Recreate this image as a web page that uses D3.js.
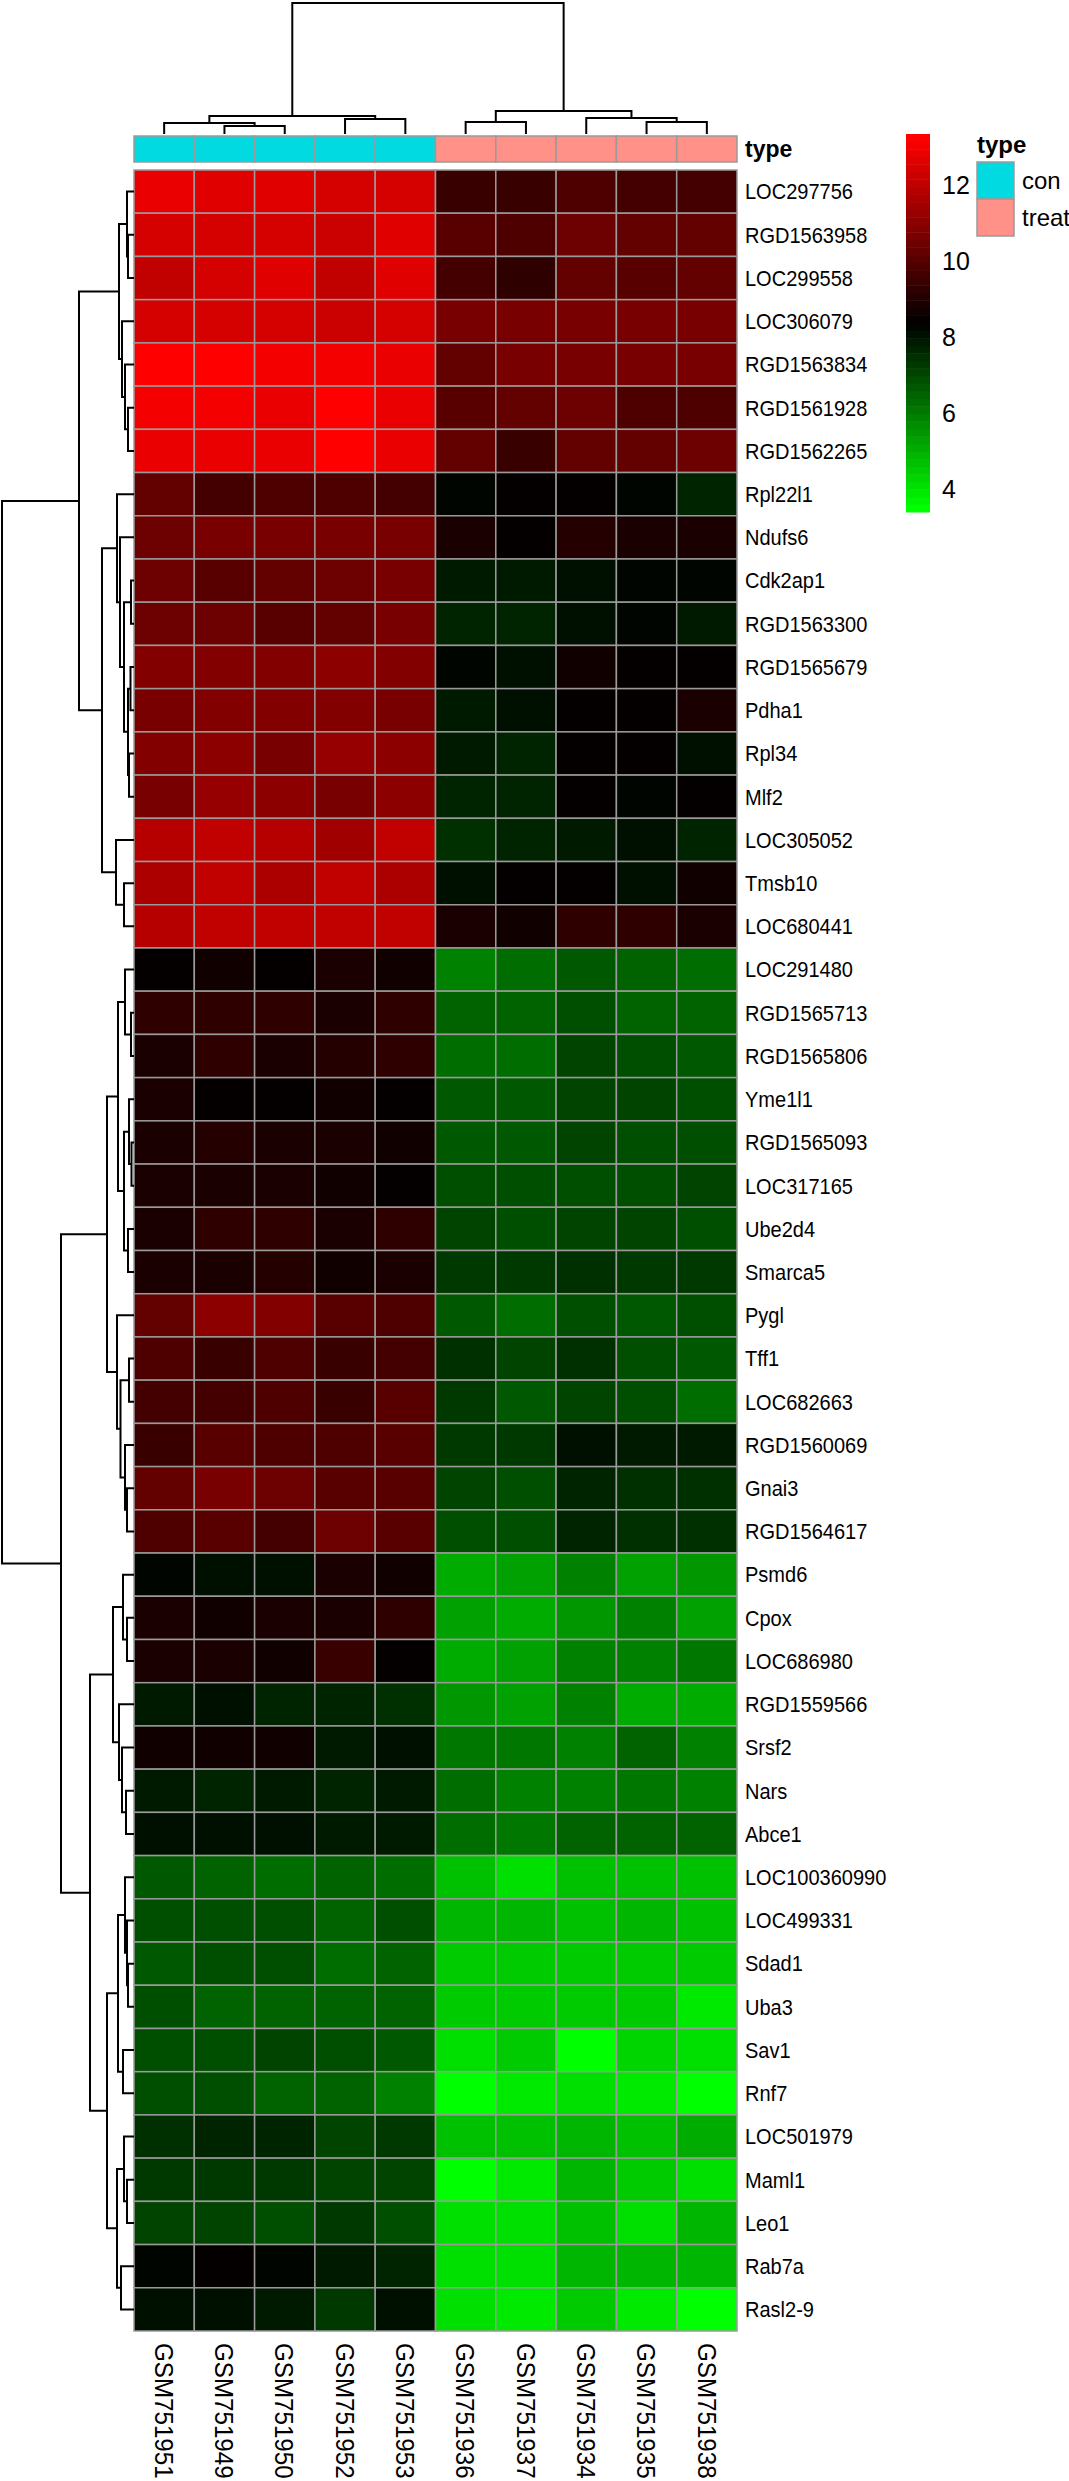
<!DOCTYPE html>
<html>
<head>
<meta charset="utf-8">
<script src="https://cdn.jsdelivr.net/npm/d3@7"></script>
<style>
  body { margin: 0; background: #fff; }
  text { font-family: "Liberation Sans", Arial, sans-serif; fill: #000; }
</style>
</head>
<body>
<div id="chart-wrapper"></div>
<script>
// samples, in the order they are drawn
let samples = [
  "GSM751951", "GSM751949", "GSM751950", "GSM751952", "GSM751953",
  "GSM751936", "GSM751937", "GSM751934", "GSM751935", "GSM751938",
];
let sampleType = ["con", "con", "con", "con", "con", "treat", "treat", "treat", "treat", "treat"];
let typeLevels = ["con", "treat"];
let typeColors = ["#00DAE0", "#FF9189"];

let genes = [
  "LOC297756", "RGD1563958", "LOC299558", "LOC306079", "RGD1563834",
  "RGD1561928", "RGD1562265", "Rpl22l1", "Ndufs6", "Cdk2ap1",
  "RGD1563300", "RGD1565679", "Pdha1", "Rpl34", "Mlf2",
  "LOC305052", "Tmsb10", "LOC680441", "LOC291480", "RGD1565713",
  "RGD1565806", "Yme1l1", "RGD1565093", "LOC317165", "Ube2d4",
  "Smarca5", "Pygl", "Tff1", "LOC682663", "RGD1560069",
  "Gnai3", "RGD1564617", "Psmd6", "Cpox", "LOC686980",
  "RGD1559566", "Srsf2", "Nars", "Abce1", "LOC100360990",
  "LOC499331", "Sdad1", "Uba3", "Sav1", "Rnf7",
  "LOC501979", "Maml1", "Leo1", "Rab7a", "Rasl2-9",
];

// expression values, one row per gene, one column per sample
let expr = [
  [12.92, 12.69, 12.69, 12.53, 12.53, 9.52, 9.52, 9.91, 9.72, 9.72],
  [12.45, 12.45, 12.45, 12.22, 12.69, 10.11, 9.91, 10.42, 10.19, 10.19],
  [12.10, 12.45, 12.69, 12.10, 12.69, 9.72, 9.33, 10.19, 9.99, 10.26],
  [12.45, 12.45, 12.45, 12.22, 12.45, 10.73, 10.77, 10.73, 10.58, 10.66],
  [13.37, 13.37, 13.16, 13.08, 12.92, 10.34, 10.58, 10.77, 10.58, 10.66],
  [13.08, 13.08, 12.92, 13.37, 12.92, 9.99, 10.19, 10.42, 9.91, 9.95],
  [12.92, 12.92, 12.92, 13.37, 12.92, 10.30, 9.52, 10.19, 10.19, 10.42],
  [10.19, 9.60, 9.80, 9.91, 9.72, 8.19, 8.43, 8.43, 8.19, 7.76],
  [10.50, 10.77, 10.77, 10.58, 10.66, 8.98, 8.39, 9.13, 8.98, 8.98],
  [10.50, 9.99, 10.26, 10.50, 10.77, 7.88, 7.84, 8.00, 8.19, 8.19],
  [10.38, 10.38, 10.11, 10.23, 10.73, 7.69, 7.73, 8.08, 8.27, 7.80],
  [10.89, 10.89, 10.89, 11.12, 10.97, 8.27, 8.08, 8.70, 8.47, 8.47],
  [10.66, 10.89, 10.89, 10.89, 10.73, 7.92, 8.08, 8.47, 8.47, 8.94],
  [10.85, 11.00, 10.66, 11.24, 11.08, 7.84, 7.69, 8.43, 8.47, 8.16],
  [10.73, 11.24, 11.08, 10.73, 11.00, 7.65, 7.69, 8.43, 8.19, 8.43],
  [11.91, 12.14, 11.91, 11.44, 12.14, 7.57, 7.69, 7.84, 8.04, 7.65],
  [11.71, 12.14, 11.71, 12.14, 11.71, 8.08, 8.47, 8.47, 8.16, 8.70],
  [11.91, 12.14, 12.14, 12.14, 12.14, 8.94, 8.62, 9.25, 9.33, 8.94],
  [8.39, 8.62, 8.39, 8.94, 8.70, 5.89, 6.24, 6.67, 6.51, 6.24],
  [9.25, 9.25, 9.33, 8.94, 9.21, 6.59, 6.51, 6.83, 6.59, 6.40],
  [8.94, 9.25, 8.94, 9.13, 9.21, 6.36, 6.28, 7.14, 6.83, 6.75],
  [8.90, 8.47, 8.47, 8.70, 8.47, 6.75, 6.75, 7.06, 7.14, 6.83],
  [8.90, 9.02, 8.94, 8.94, 8.70, 6.75, 6.75, 7.06, 6.94, 6.94],
  [8.82, 8.90, 8.90, 8.70, 8.47, 6.83, 6.94, 6.98, 6.87, 7.14],
  [8.90, 9.25, 9.25, 8.94, 9.33, 7.18, 6.98, 7.14, 7.18, 6.98],
  [8.94, 8.94, 9.02, 8.62, 8.94, 7.22, 7.37, 7.45, 7.33, 7.29],
  [10.26, 11.12, 10.97, 10.11, 9.95, 6.63, 6.20, 6.98, 6.75, 6.83],
  [9.80, 9.45, 9.91, 9.45, 9.72, 7.49, 7.14, 7.53, 6.98, 6.75],
  [9.64, 9.64, 9.91, 9.49, 9.99, 7.37, 6.75, 7.14, 6.87, 6.24],
  [9.56, 10.03, 9.87, 9.87, 10.11, 7.33, 7.37, 8.08, 7.88, 7.80],
  [10.19, 10.62, 10.50, 10.11, 10.11, 7.14, 6.98, 7.61, 7.45, 7.53],
  [9.80, 10.11, 9.60, 10.50, 10.11, 6.98, 6.94, 7.61, 7.57, 7.53],
  [8.27, 8.04, 8.04, 8.94, 8.70, 5.03, 5.34, 5.81, 5.34, 5.58],
  [8.94, 8.62, 8.94, 8.94, 9.33, 5.34, 5.03, 5.58, 5.81, 5.34],
  [8.98, 8.90, 8.62, 9.49, 8.43, 5.07, 5.34, 5.81, 5.81, 6.08],
  [7.96, 8.00, 7.76, 7.61, 7.57, 5.58, 5.34, 5.81, 5.07, 5.07],
  [8.62, 8.62, 8.62, 7.88, 8.08, 6.16, 6.12, 5.97, 6.43, 5.89],
  [7.80, 7.65, 7.92, 7.61, 7.84, 6.28, 5.89, 5.93, 6.04, 5.93],
  [8.04, 8.04, 8.04, 7.92, 7.92, 6.28, 6.08, 6.59, 6.40, 6.59],
  [6.67, 6.40, 6.20, 6.40, 6.20, 4.64, 4.17, 4.64, 4.72, 4.64],
  [6.83, 6.83, 6.83, 6.59, 6.83, 4.95, 4.95, 4.64, 4.95, 4.64],
  [6.75, 6.90, 6.98, 6.24, 6.59, 4.40, 4.40, 4.48, 4.40, 4.48],
  [6.98, 6.59, 6.59, 6.40, 6.40, 4.56, 4.40, 4.56, 4.56, 3.86],
  [6.98, 6.90, 7.14, 6.98, 6.75, 4.17, 4.48, 3.50, 4.33, 4.01],
  [6.83, 6.83, 6.59, 6.59, 5.81, 3.40, 3.82, 4.01, 3.86, 3.55],
  [7.53, 7.61, 7.73, 7.18, 7.29, 4.64, 4.72, 4.95, 4.72, 5.07],
  [7.29, 7.22, 7.29, 7.14, 7.14, 3.40, 3.82, 4.95, 4.40, 4.01],
  [7.14, 7.06, 6.98, 7.37, 6.90, 4.17, 4.17, 4.64, 4.17, 4.87],
  [8.31, 8.47, 8.27, 7.84, 7.73, 4.17, 4.17, 4.87, 4.95, 4.87],
  [8.00, 8.00, 7.92, 7.22, 8.00, 4.09, 3.82, 4.48, 3.94, 3.40],
];

// dendrograms: [mergeHeight, left, right], leaves are row / column indices
let rowTree = [132,
  [55,
    [15, [7, 0, [6, 1, 2]], [12, 3, [9, 4, [6, 5, 6]]]],
    [32,
      [17, 7, [14, 8, [10, [3, 9, 10], [6, [3.5, 11, 12], [5, 13, 14]]]]],
      [18, 15, [10, 16, 17]]]],
  [73,
    [27,
      [16, [9, 18, [3, 19, 20]], [10, [5, 21, [2.5, 22, 23]], [6, 24, 25]]],
      [17, 26, [13.5, [5, 27, 28], [9, 29, [7, 30, 31]]]]],
    [44,
      [21, [11, 32, [7, 33, 34]], [15, 35, [12, 36, [8, 37, 38]]]],
      [27,
        [16, [9, 39, [7, 40, [6, 41, 42]]], [11, 43, 44]],
        [17, [10, 45, [7, 46, 47]], [13, 48, 49]]]]]];

let colTree = [131,
  [18, [11, 0, [8, 1, 2]], [15, 3, 4]],
  [23, [12, 5, 6], [16, 7, [12, 8, 9]]]];

let legendTicks = [4, 6, 8, 10, 12];

// ---- layout ----
const width = 1069;
const height = 2481;
const heatLeft = 134, heatRight = 737, heatTop = 170, heatBottom = 2331;
const font = '"Liberation Sans", Arial, sans-serif';

const svg = d3.select("#chart-wrapper")
  .append("svg")
  .attr("width", width)
  .attr("height", height);

const xScale = d3.scaleBand().domain(d3.range(samples.length)).range([heatLeft, heatRight]);
const yScale = d3.scaleBand().domain(d3.range(genes.length)).range([heatTop, heatBottom]);

// green - black - red ramp cut into 50 colours, like pheatmap
const allVals = expr.flat();
const vMin = d3.min(allVals), vMax = d3.max(allVals);
const ramp = d3.piecewise(d3.interpolateRgb, ["#00FF00", "#000000", "#FF0000"]);
const palette = d3.range(50).map((i) => ramp(i / 49));
const color = d3.scaleQuantize().domain([vMin, vMax]).range(palette);

// heatmap cells
const cells = [];
expr.forEach((row, r) => row.forEach((v, c) => cells.push({ r, c, v })));
svg.append("g")
  .selectAll("rect")
  .data(cells)
  .enter()
  .append("rect")
  .attr("x", (d) => xScale(d.c))
  .attr("y", (d) => yScale(d.r))
  .attr("width", xScale.bandwidth())
  .attr("height", yScale.bandwidth())
  .attr("fill", (d) => color(d.v))
  .attr("stroke", "#9a9a9a")
  .attr("stroke-width", 1.5);

// annotation bar
const typeColor = d3.scaleOrdinal().domain(typeLevels).range(typeColors);
svg.append("g")
  .selectAll("rect")
  .data(sampleType)
  .enter()
  .append("rect")
  .attr("x", (d, i) => xScale(i))
  .attr("y", 136)
  .attr("width", xScale.bandwidth())
  .attr("height", 26)
  .attr("fill", (d) => typeColor(d))
  .attr("stroke", "#9a9a9a")
  .attr("stroke-width", 1.5);

svg.append("text")
  .attr("x", 745)
  .attr("y", 149)
  .attr("dominant-baseline", "central")
  .attr("font-size", 23)
  .attr("font-weight", "bold")
  .text("type");

// row labels (the picture is a bit taller than wide, so squeeze the text)
svg.append("g")
  .selectAll("text")
  .data(genes)
  .enter()
  .append("text")
  .attr("transform", (d, i) => `translate(745, ${yScale(i) + yScale.bandwidth() / 2}) scale(0.91, 1)`)
  .attr("dominant-baseline", "central")
  .attr("font-size", 22)
  .text((d) => d);

// column labels, rotated
svg.append("g")
  .selectAll("text")
  .data(samples)
  .enter()
  .append("text")
  .attr("transform", (d, i) => `translate(${xScale(i) + xScale.bandwidth() / 2}, 2343) rotate(90) scale(0.93, 1)`)
  .attr("dominant-baseline", "central")
  .attr("font-size", 26)
  .text((d) => d);

// dendrograms
function drawTree(g, node, posOf, hScale, vertical) {
  // returns [position, height] of the node
  if (typeof node === "number") return [posOf(node), 0];
  const a = drawTree(g, node[1], posOf, hScale, vertical);
  const b = drawTree(g, node[2], posOf, hScale, vertical);
  const h = node[0];
  let pts = [[a[0], hScale(a[1])], [a[0], hScale(h)], [b[0], hScale(h)], [b[0], hScale(b[1])]];
  if (!vertical) pts = pts.map((p) => [p[1], p[0]]);
  g.append("path")
    .attr("d", d3.line()(pts))
    .attr("fill", "none")
    .attr("stroke", "#000")
    .attr("stroke-width", 2);
  return [(a[0] + b[0]) / 2, h];
}

const colH = d3.scaleLinear().domain([0, colTree[0]]).range([134, 3]);
drawTree(svg.append("g"), colTree, (i) => xScale(i) + xScale.bandwidth() / 2, colH, true);

const rowH = d3.scaleLinear().domain([0, rowTree[0]]).range([134, 2]);
drawTree(svg.append("g"), rowTree, (i) => yScale(i) + yScale.bandwidth() / 2, rowH, false);

// colour key
const keyScale = d3.scaleLinear().domain([vMin, vMax]).range([512, 134]);
const step = (vMax - vMin) / palette.length;
svg.append("g")
  .selectAll("rect")
  .data(palette)
  .enter()
  .append("rect")
  .attr("x", 906)
  .attr("width", 24)
  .attr("y", (d, i) => keyScale(vMin + (i + 1) * step))
  .attr("height", (d, i) => keyScale(vMin + i * step) - keyScale(vMin + (i + 1) * step) + 0.5)
  .attr("fill", (d) => d);

const keyAxis = d3.axisRight(keyScale).tickValues(legendTicks).tickSize(0).tickPadding(12);
const keyG = svg.append("g").attr("transform", "translate(930, 0)").call(keyAxis);
keyG.select(".domain").remove();
keyG.selectAll("text").attr("font-size", 25).attr("font-family", font).attr("fill", "#000");

// type legend
svg.append("text")
  .attr("x", 977)
  .attr("y", 153)
  .attr("font-size", 24)
  .attr("font-weight", "bold")
  .text("type");

const legend = svg.append("g")
  .selectAll("g")
  .data(typeLevels)
  .enter()
  .append("g")
  .attr("transform", (d, i) => `translate(977, ${162 + i * 37})`);
legend.append("rect")
  .attr("width", 37)
  .attr("height", 37)
  .attr("fill", (d) => typeColor(d))
  .attr("stroke", "#9a9a9a")
  .attr("stroke-width", 1.5);
legend.append("text")
  .attr("x", 45)
  .attr("y", 18.5)
  .attr("dominant-baseline", "central")
  .attr("font-size", 24)
  .text((d) => d);
</script>
</body>
</html>
